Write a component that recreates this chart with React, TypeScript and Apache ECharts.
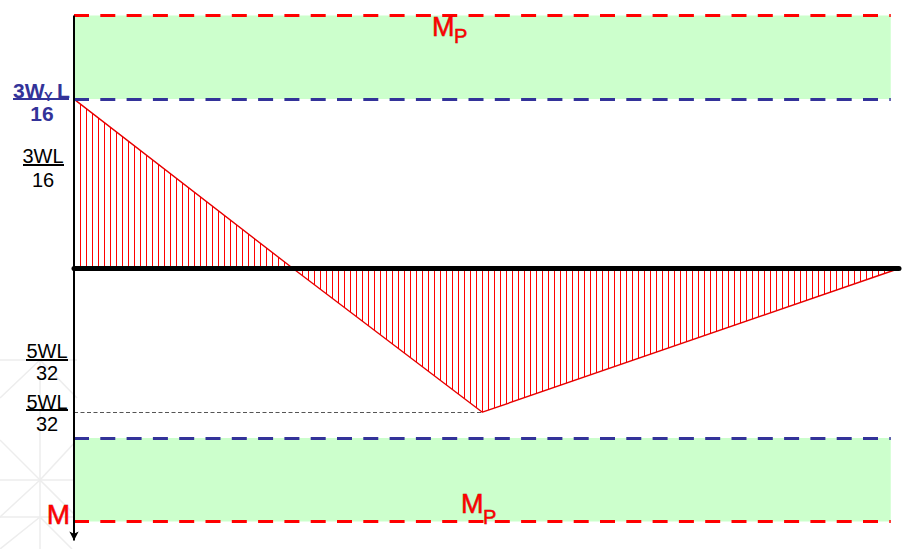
import React, { useEffect, useRef } from "react";
import * as echarts from "echarts";

// Bending-moment diagram (x as fraction of span L, M in units of W·L, sagging positive = downward)
const momentX = [0, 0.2655, 0.495, 1];
const momentY = [-0.1875, 0, 0.159, 0];
const plasticMoment = 0.28; // M_P
const yieldMoment = 0.1875; // 3 W_Y L / 16
const bandEndX = 0.99;
const peakX = 0.495;
const peakM = 0.159;
const axisEndM = 0.301;

const blueLabel = { num: "3W", sub: "Y", tail: "L", den: "16" };
const blackLabels = [
  { num: "3WL", den: "16" },
  { num: "5WL", den: "32" },
  { num: "5WL", den: "32" },
];
const mpText = { main: "M", sub: "P" };

const RED = "#ff0000";
const BLUE = "#333399";
const GREEN = "#ccffcc";

export default function App() {
  const ref = useRef<HTMLDivElement>(null);

  useEffect(() => {
    if (!ref.current) return;
    const chart = echarts.init(ref.current, null, { renderer: "svg" });

    const dashed = (color: string) => ({
      color,
      width: 3,
      type: [15, 11.3] as any,
      cap: "butt" as any,
    });

    const fracPos = [
      { cx: 43, ny: 155.5, ly: 165, lx1: 23, lx2: 64, dy: 180 },
      { cx: 47, ny: 350.5, ly: 360, lx1: 26, lx2: 68, dy: 373 },
      { cx: 47, ny: 401.5, ly: 410, lx1: 26, lx2: 68, dy: 424 },
    ];

    const txt = (
      text: string,
      x: number,
      y: number,
      size: number,
      fill: string,
      align: string,
      weight: string = "normal",
      extra: any = {}
    ) => ({
      type: "text",
      x,
      y,
      silent: true,
      z: 20,
      style: {
        text,
        fontSize: size,
        fontFamily: "'Liberation Sans', Arial, sans-serif",
        fontWeight: weight,
        fill,
        align,
        verticalAlign: "middle",
        ...extra,
      },
    });

    const ln = (x1: number, y1: number, x2: number, y2: number, stroke: string, w: number, z = 20) => ({
      type: "line",
      silent: true,
      z,
      shape: { x1, y1, x2, y2 },
      style: { stroke, lineWidth: w },
    });

    const bg = "#ededed";
    const bgLines = [
      ln(0, 360, 77, 360, bg, 1.5, -10),
      ln(0, 480, 77, 480, bg, 1.5, -10),
      ln(0, 517, 77, 517, bg, 1.5, -10),
      ln(40, 360, 40, 549, bg, 1.5, -10),
      ln(0, 398, 40, 360, bg, 1.5, -10),
      ln(40, 360, 77, 398, bg, 1.5, -10),
      ln(0, 440, 40, 480, bg, 1.5, -10),
      ln(40, 480, 77, 440, bg, 1.5, -10),
      ln(0, 517, 40, 480, bg, 1.5, -10),
      ln(40, 480, 77, 517, bg, 1.5, -10),
      ln(0, 549, 40, 517, bg, 1.5, -10),
      ln(40, 517, 72, 549, bg, 1.5, -10),
    ];

    const mStyle = { stroke: "#a00000", lineWidth: 0.5 };
    const graphics: any[] = [
      ...bgLines,
      // blue fraction
      txt(blueLabel.num, 13, 90, 21, BLUE, "left", "bold"),
      txt(blueLabel.sub, 44, 96, 13, BLUE, "left", "bold"),
      txt(blueLabel.tail, 57, 90, 21, BLUE, "left", "bold"),
      ln(13, 99, 69, 99, BLUE, 2),
      txt(blueLabel.den, 42, 113.5, 21, BLUE, "center", "bold"),
      // black fractions
      ...blackLabels.flatMap((f, i) => {
        const p = fracPos[i];
        return [
          txt(f.num, p.cx, p.ny, 20, "#000", "center"),
          ln(p.lx1, p.ly, p.lx2, p.ly, "#000", 2),
          txt(f.den, p.cx, p.dy, 20, "#000", "center"),
        ];
      }),
      // M labels
      txt(mpText.main, 70, 514, 28, RED, "right", "normal", mStyle),
      txt(mpText.main, 432, 27, 27, RED, "left", "normal", mStyle),
      txt(mpText.sub, 454, 35.5, 20, RED, "left", "normal", mStyle),
      txt(mpText.main, 461, 504, 27, RED, "left", "normal", mStyle),
      txt(mpText.sub, 483, 516.5, 20, RED, "left", "normal", mStyle),
    ];

    const outline = momentX.map((x, i) => [x, momentY[i]]);

    const option: any = {
      animation: false,
      backgroundColor: "#ffffff",
      grid: { left: 74, right: 9, top: 15.5, bottom: 8.5, containLabel: false },
      xAxis: {
        type: "value",
        min: 0,
        max: 1,
        z: 5,
        axisLine: { show: true, onZero: true, lineStyle: { color: "#000", width: 5 } },
        axisTick: { show: false },
        axisLabel: { show: false },
        splitLine: { show: false },
      },
      yAxis: {
        type: "value",
        inverse: true,
        min: -plasticMoment,
        max: axisEndM,
        axisLine: { show: false },
        axisTick: { show: false },
        axisLabel: { show: false },
        splitLine: { show: false },
      },
      graphic: graphics,
      series: [
        {
          name: "bands",
          type: "line",
          data: [[0, 0]],
          showSymbol: false,
          lineStyle: { width: 0, opacity: 0 },
          z: 0,
          silent: true,
          markArea: {
            silent: true,
            itemStyle: { color: GREEN },
            data: [
              [{ coord: [0, -plasticMoment] }, { coord: [bandEndX, -yieldMoment] }],
              [{ coord: [0, yieldMoment] }, { coord: [bandEndX, plasticMoment] }],
            ],
          },
        },
        {
          name: "hatch",
          type: "custom",
          coordinateSystem: "cartesian2d",
          data: [[0, 0]],
          silent: true,
          z: 2,
          renderItem: (_params: any, api: any) => {
            const pts = momentX.map((x, i) => api.coord([x, momentY[i]]));
            const y0 = api.coord([0, 0])[1];
            const children: any[] = [];
            const xs = pts[0][0];
            const xe = pts[pts.length - 1][0];
            for (let p = xs; p <= xe; p += 6) {
              const px = Math.round(p) + 0.5;
              let k = 0;
              while (k < pts.length - 2 && px > pts[k + 1][0]) k++;
              const [ax, ay] = pts[k];
              const [bx, by] = pts[k + 1];
              const t = Math.min(1, Math.max(0, (px - ax) / (bx - ax)));
              const py = ay + t * (by - ay);
              children.push({
                type: "line",
                shape: { x1: px, y1: y0, x2: px, y2: py },
                style: { stroke: "#ff0000", lineWidth: 1 },
              });
            }
            return { type: "group", children };
          },
        },
        {
          name: "moment",
          type: "line",
          data: outline,
          showSymbol: false,
          z: 3,
          silent: true,
          lineStyle: { color: "#e60000", width: 1.4 },
        },
        {
          name: "limits",
          type: "line",
          data: [[0, 0]],
          showSymbol: false,
          lineStyle: { width: 0, opacity: 0 },
          z: 4,
          silent: true,
          markLine: {
            silent: true,
            symbol: ["none", "none"],
            label: { show: false },
            data: [
              [{ coord: [0, -plasticMoment], lineStyle: dashed(RED) }, { coord: [bandEndX, -plasticMoment] }],
              [{ coord: [0, plasticMoment], lineStyle: dashed(RED) }, { coord: [bandEndX, plasticMoment] }],
              [{ coord: [0, -yieldMoment], lineStyle: dashed(BLUE) }, { coord: [bandEndX, -yieldMoment] }],
              [{ coord: [0, yieldMoment], lineStyle: dashed(BLUE) }, { coord: [bandEndX, yieldMoment] }],
              [
                { coord: [0, peakM], lineStyle: { color: "#555", width: 1, type: [4, 2.5] } },
                { coord: [peakX, peakM] },
              ],
            ],
          },
        },
        {
          name: "axis",
          type: "line",
          data: [[0, 0]],
          showSymbol: false,
          lineStyle: { width: 0, opacity: 0 },
          z: 6,
          silent: true,
          markLine: {
            silent: true,
            symbol: ["none", "arrow"],
            symbolSize: [7, 9],
            label: { show: false },
            lineStyle: { color: "#000", width: 2, type: "solid" },
            data: [[{ coord: [0, -plasticMoment] }, { coord: [0, axisEndM] }]],
          },
        },
      ],
    };

    chart.setOption(option);
    return () => chart.dispose();
  }, []);

  return <div ref={ref} style={{ width: 908, height: 549, position: "absolute", left: 0, top: 0 }} />;
}
